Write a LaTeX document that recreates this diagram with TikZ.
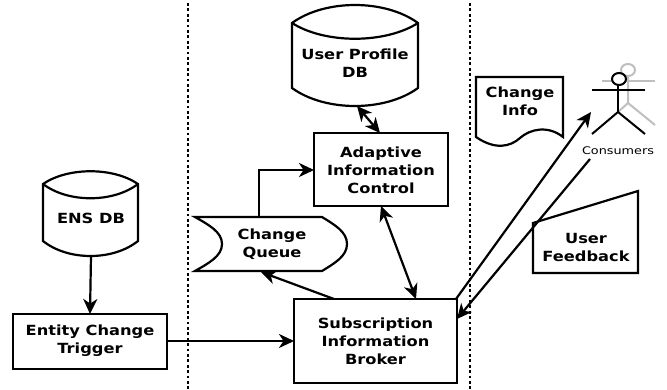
\documentclass[tikz,border=0pt]{standalone}
\usepackage{fontspec}
\setmainfont{DejaVu Sans}
\newfontfamily\boldw[FakeStretch=1.16]{DejaVu Sans Bold}
\newfontfamily\regw[FakeStretch=1.22]{DejaVu Sans}
\usetikzlibrary{arrows.meta}
\tikzset{
  x=1pt,y=-1pt,
  shapeline/.style={draw=black,line width=2.2pt,fill=white,line join=miter},
  lbl/.style={font=\boldw\fontsize{14}{17.8}\selectfont,align=center,inner sep=0pt,text=black},
  boxn/.style={shapeline,rectangle,inner sep=0pt,outer sep=0pt,anchor=north west},
  conn/.style={draw=black,line width=2.2pt,-{Stealth[length=15pt,width=14pt,inset=4.5pt]}},
  both/.style={draw=black,line width=2.2pt,{Stealth[length=15pt,width=14pt,inset=4.5pt]}-{Stealth[length=15pt,width=14pt,inset=4.5pt]}},
  sep/.style={draw=black,line width=2.3pt,dash pattern=on 2.7pt off 2.7pt},
  stick/.style={draw=black,line width=2pt},
  ghost/.style={draw=black!25,line width=2pt}
}
\begin{document}
\begin{tikzpicture}
\useasboundingbox (0,0) rectangle (667,389);
% separators
\coordinate (s1a) at (188,3); \coordinate (s1b) at (188,389);
\coordinate (s2a) at (470,3); \coordinate (s2b) at (470,389);
\draw[sep] (s1a) -- (s1b);
\draw[sep] (s2a) -- (s2b);
% boxes
\node[boxn,minimum width=154pt,minimum height=55pt] (trig) at (13,314) {};
\node[lbl] (triglbl) at (90,340.7) {Entity Change\\Trigger};
\node[boxn,minimum width=163pt,minimum height=84pt] (sib) at (294,299) {};
\node[lbl] (siblbl) at (375.5,341) {Subscription\\Information\hspace*{7pt}\\Broker};
\node[boxn,minimum width=134pt,minimum height=73pt] (aic) at (314,133) {};
\node[lbl] (aiclbl) at (381,170) {Adaptive\\Information\\Control};
% ENS DB
\draw[shapeline] (43,184) .. controls (68,167) and (113,167) .. (138,184)
  -- (138,241) .. controls (113,261) and (68,261) .. (43,241) -- cycle;
\draw[shapeline] (43,184) .. controls (68,203) and (113,203) .. (138,184);
\coordinate (ensb) at (91,256);
\node[lbl] (enslbl) at (91,218) {ENS DB};
% User profile DB
\draw[shapeline] (292,23) .. controls (325,-1) and (385,-1) .. (418,23)
  -- (418,88) .. controls (385,112) and (325,112) .. (292,88) -- cycle;
\draw[shapeline] (292,23) .. controls (325,44) and (385,44) .. (418,23);
\coordinate (upb) at (357,106);
\node[lbl] (uplbl) at (355,63.5) {User Profile\\DB};
% Change Queue
\draw[shapeline] (195,217) -- (322,217) .. controls (335,225) and (347,232) .. (347,244)
  .. controls (347,256) and (335,263) .. (322,271) -- (195,271)
  .. controls (209,263) and (222,256) .. (222,244) .. controls (222,232) and (209,225) .. (195,217) -- cycle;
\node[lbl] (cqlbl) at (272,244) {Change\\Queue};
\coordinate (cqt) at (259,217);
\coordinate (cqb) at (261,272);
% Change Info
\draw[shapeline] (476,77) -- (563,77) -- (563,137) .. controls (548,125) and (530,129) .. (520,138)
  .. controls (510,147) and (495,150) .. (476,137) -- cycle;
\node[lbl] (cilbl) at (520,101.5) {Change\\Info};
% User Feedback
\draw[shapeline] (533,223) -- (638,191) -- (638,273) -- (533,273) -- cycle;
\node[lbl] (uflbl) at (586,247.5) {User\\Feedback};
% actors
\draw[ghost] (628,70) ellipse[x radius=7pt,y radius=6pt];
\draw[ghost] (602,81) -- (655,81);
\draw[ghost] (628,76) -- (628,103) -- (655,125);
\draw[ghost] (628,103) -- (618,112);
\draw[stick,fill=white] (619,79) ellipse[x radius=7pt,y radius=6pt];
\draw[stick] (592,90) -- (645,90);
\draw[stick] (618,85) -- (618,112);
\draw[stick] (592,134) -- (618,112) -- (645,134);
\node[font=\regw\fontsize{10.5}{12}\selectfont,inner sep=0pt] (cons) at (618,151) {Consumers};
% connectors
\coordinate (a1) at (591,112);
\coordinate (a2) at (590,159);
\coordinate (sibtr) at (456,299);
\coordinate (sibr) at (457,319);
\coordinate (sibt) at (334,299);
\coordinate (aicb) at (381,206);
\coordinate (sibtt) at (416,299);
\coordinate (aict) at (380,133);
\draw[conn] (ensb) -- (90,314);
\draw[conn] (trig.east |- 0,341) -- (sib.west |- 0,341);
\draw[conn] (sibt) -- (cqb);
\draw[both] (aicb) -- (sibtt);
\draw[both] (upb) -- (aict);
\draw[conn] (cqt) -- (259,170) -- (aic.west |- 0,170);
\draw[conn] (sibtr) -- (a1);
\draw[conn] (a2) -- (sibr);
\end{tikzpicture}
\end{document}
